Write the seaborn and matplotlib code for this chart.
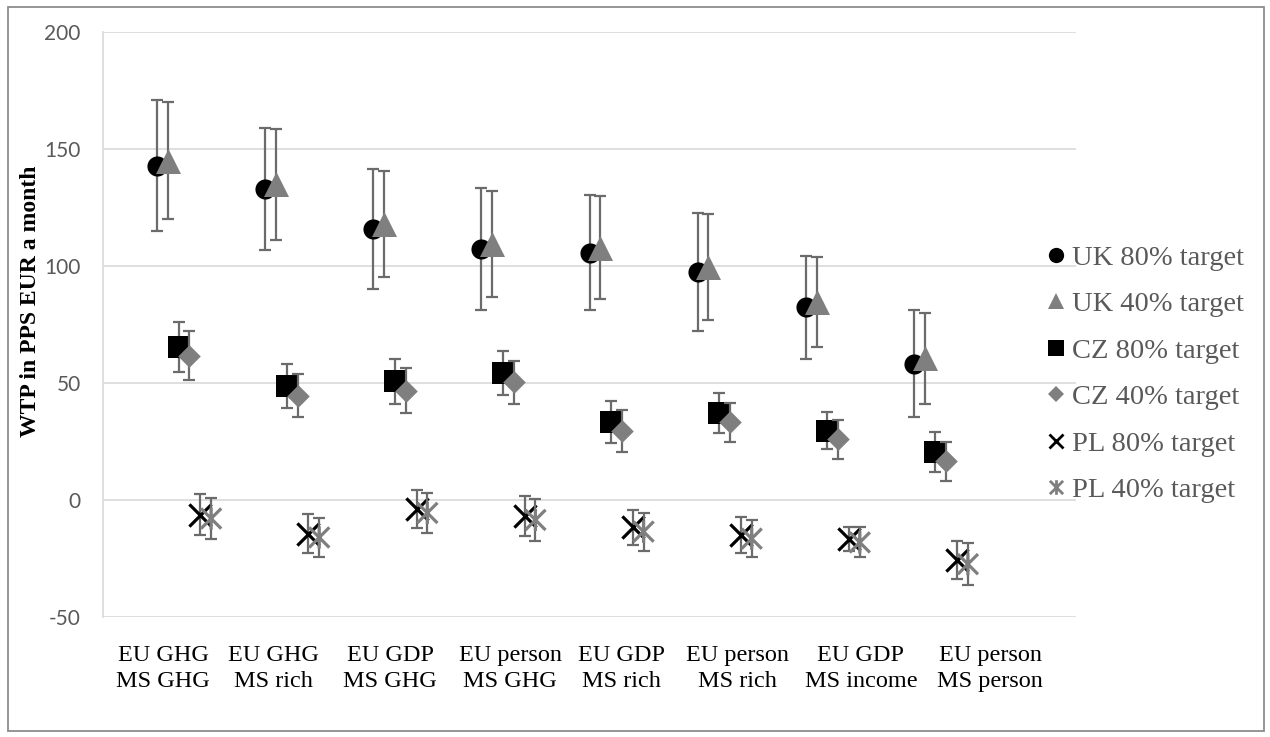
import numpy as np
import pandas as pd
import matplotlib
matplotlib.use("Agg")
import matplotlib.pyplot as plt
import seaborn as sns
from matplotlib.path import Path
from matplotlib.lines import Line2D
from matplotlib.patches import Rectangle

# data
categories = ["EU GHG\nMS GHG", "EU GHG\nMS rich", "EU GDP\nMS GHG", "EU person\nMS GHG",
              "EU GDP\nMS rich", "EU person\nMS rich", "EU GDP\nMS income", "EU person\nMS person"]

uk80 = [143, 133, 115.8, 107.4, 105.7, 97.5, 82.5, 58.3]
uk80_err = [28, 26.2, 25.6, 26, 24.6, 25.2, 22, 22.9]
uk40 = [145, 135, 118, 109.5, 107.8, 99.6, 84.7, 60.6]
uk40_err = [25, 23.6, 22.5, 22.8, 22, 22.6, 19.4, 19.5]
cz80 = [65.6, 48.6, 50.7, 54.3, 33.4, 37.2, 29.7, 20.6]
cz80_err = [10.7, 9.4, 9.6, 9.4, 8.9, 8.5, 8, 8.6]
cz40 = [61.8, 44.7, 46.8, 50.4, 29.6, 33.2, 25.9, 16.6]
cz40_err = [10.6, 9.2, 9.6, 9.2, 8.9, 8.2, 8.2, 8.3]
pl80 = [-6.2, -14.3, -3.8, -6.8, -11.7, -15, -16.5, -25.7]
pl80_err = [8.8, 8.2, 8, 8.6, 7.5, 7.8, 5.1, 8.2]
pl40 = [-7.9, -16, -5.5, -8.5, -13.5, -16.5, -18.1, -27.4]
pl40_err = [8.9, 8.5, 8.7, 8.9, 8.1, 8, 6.4, 8.9]

labels = ["UK 80% target", "UK 40% target", "CZ 80% target",
          "CZ 40% target", "PL 80% target", "PL 40% target"]

sns.set_theme(style="white")
plt.rcParams['font.family'] = ['Liberation Serif', 'DejaVu Serif']

BLACK = "black"
GREY = "#7f7f7f"
ERR = "#6b6b6b"

# Excel-like "star" marker: X with a vertical bar
star = Path([(-1, -1), (1, 1), (-1, 1), (1, -1), (0, -1.1), (0, 1.1)],
            [Path.MOVETO, Path.LINETO, Path.MOVETO, Path.LINETO, Path.MOVETO, Path.LINETO])

# name, values, errors, marker, colour, size(pt), filled
series = [
    (labels[0], uk80, uk80_err, "o", BLACK, 14.5, True),
    (labels[1], uk40, uk40_err, "^", GREY, 18, True),
    (labels[2], cz80, cz80_err, "s", BLACK, 16, True),
    (labels[3], cz40, cz40_err, "D", GREY, 11.5, True),
    (labels[4], pl80, pl80_err, "x", BLACK, 16, False),
    (labels[5], pl40, pl40_err, star, GREY, 16, False),
]

fig = plt.figure(figsize=(12.7, 7.37), dpi=100)
ax = fig.add_axes([103 / 1270, 1 - 617 / 737, 973 / 1270, 584.7 / 737])

for k, (name, vals, errs, m, c, size, filled) in enumerate(series):
    x = np.arange(1, len(categories) + 1) + 0.1 * k
    df = pd.DataFrame({"x": x, "y": vals})
    ax.errorbar(df["x"], df["y"], yerr=errs, fmt="none", ecolor=ERR,
                elinewidth=1.6, capsize=4.6, capthick=1.6, zorder=2 + 2 * k)
    if filled:
        sns.scatterplot(data=df, x="x", y="y", marker=m, color=c, edgecolor=c,
                        linewidth=0, s=size ** 2, ax=ax, zorder=3 + 2 * k, legend=False)
    elif m == "x":
        sns.scatterplot(data=df, x="x", y="y", marker=m, color=c,
                        linewidth=2.3, s=size ** 2, ax=ax, zorder=3 + 2 * k, legend=False)
    else:
        sns.scatterplot(data=df, x="x", y="y", marker=m, color=c, facecolor="none",
                        edgecolor=c, linewidth=2.3, s=size ** 2, ax=ax,
                        zorder=3 + 2 * k, legend=False)

ax.set_xlim(0.5, 9.5)
ax.set_ylim(-50, 200)
# the category labels sit in their own boxes and drift right of the points
label_pos = [1.055, 2.073, 3.155, 4.265, 5.30, 6.365, 7.51, 8.705]
ax.set_xticks(label_pos)
ax.set_xticklabels(categories, fontsize=17.5, linespacing=1.33, color="black")
ax.set_yticks(range(-50, 201, 50))
ax.set_yticklabels([str(v) for v in range(-50, 201, 50)], fontsize=15,
                   family=["Lato", "DejaVu Sans"], color="#595959")
ax.tick_params(axis="x", length=0, pad=20)
ax.tick_params(axis="y", length=0, pad=16)
ax.set_xlabel("")
ax.set_ylabel("WTP in PPS EUR a month", fontsize=17, fontweight="bold", color="black")
ax.yaxis.set_label_coords(-0.064, 0.54)

ax.yaxis.grid(True, color="#d9d9d9", linewidth=1.2)
ax.xaxis.grid(False)
ax.set_axisbelow(True)
for side in ["top", "right", "bottom"]:
    ax.spines[side].set_visible(False)
ax.spines["left"].set_color("#d9d9d9")
ax.spines["left"].set_linewidth(1.2)

# legend
handles = []
leg_sizes = [11, 11, 11, 8.5, 10.5, 10.5]
for (name, vals, errs, m, c, size, filled), ls in zip(series, leg_sizes):
    if filled:
        h = Line2D([], [], linestyle="none", marker=m, color=c, markersize=ls, markeredgewidth=0)
    else:
        h = Line2D([], [], linestyle="none", marker=m, color=c, markersize=ls,
                   markeredgewidth=2.0, markerfacecolor="none")
    handles.append(h)
fig.legend(handles, labels, loc="upper left", bbox_to_anchor=(1045 / 1270, 1 - 245 / 737),
           frameon=False, fontsize=20.5, labelcolor="#595959", handlelength=0.75,
           handletextpad=0.2, labelspacing=0.72, borderpad=0, borderaxespad=0)

# chart area border
fig.patches.append(Rectangle((8 / 1270, 1 - 731 / 737), 1256 / 1270, 724 / 737,
                             transform=fig.transFigure, fill=False,
                             edgecolor="#8c8c8c", linewidth=1.3))

fig.savefig("out.png", dpi=100)
